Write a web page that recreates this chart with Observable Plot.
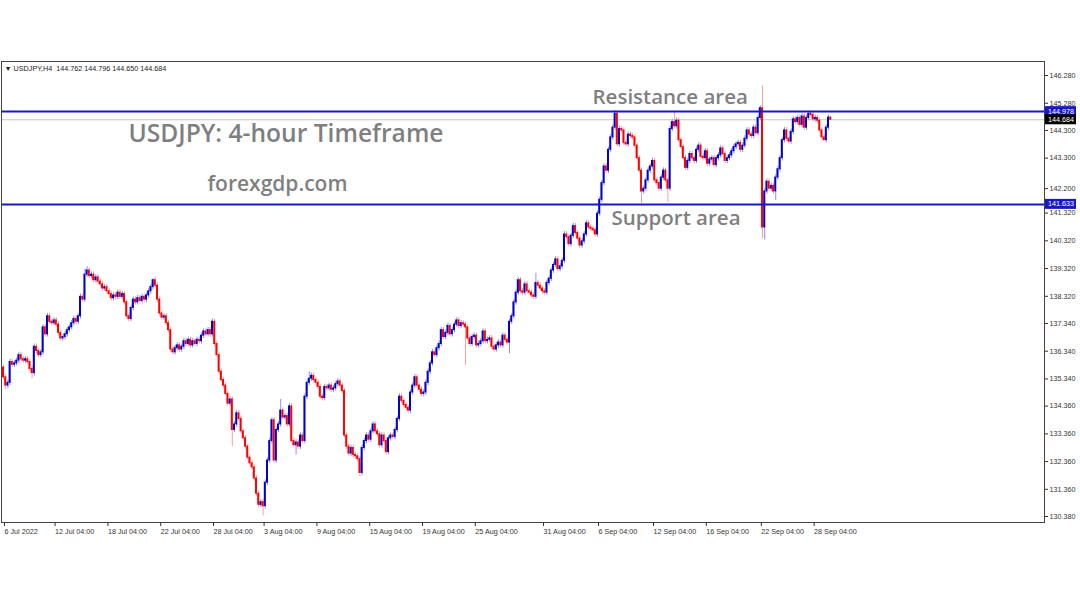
<!DOCTYPE html>
<html><head><meta charset="utf-8">
<script src="https://cdn.jsdelivr.net/npm/d3@7"></script>
<script src="https://cdn.jsdelivr.net/npm/@observablehq/plot@0.6"></script>
<style>body{margin:0;background:#fff;} svg{display:block}</style>
</head><body><div id="chart"></div>
<script>
// H4 closes, 6 Jul 2022 -> 29 Sep 2022
const closes = [
135.4,135.1,135.2,135.95,135.85,135.9,136.0,136.2,136.05,136.0,
136.05,135.95,135.7,135.55,136.5,136.35,136.2,136.3,137.2,136.95,
137.6,137.4,137.35,137.45,137.3,137.0,136.8,136.85,136.95,137.1,
137.2,137.35,137.5,137.4,137.6,138.3,138.2,139.1,139.25,139.05,
139.1,138.9,139.0,138.85,138.75,138.6,138.65,138.5,138.4,138.25,
138.35,138.3,138.45,138.3,138.4,138.1,137.6,137.5,137.9,138.2,
138.1,138.25,138.15,138.3,138.2,138.35,138.5,138.65,138.9,138.7,
138.2,137.7,137.55,137.6,137.35,137.1,136.4,136.3,136.45,136.55,
136.4,136.5,136.7,136.6,136.75,136.55,136.7,136.6,136.75,136.7,
136.9,137.05,136.95,137.1,136.95,137.4,136.6,136.2,135.6,135.3,
135.1,134.8,134.45,134.6,133.5,133.7,134.1,133.9,133.45,133.2,
132.9,132.5,132.3,132.15,131.75,131.2,130.8,130.9,130.75,131.6,
132.4,133.1,133.85,132.4,133.5,133.7,134.2,133.95,134.0,133.7,
134.35,133.1,132.95,133.05,132.9,133.3,133.1,134.7,135.2,135.35,
135.45,135.3,135.2,135.05,134.7,134.65,135.05,135.0,135.1,134.95,
135.0,135.15,135.25,135.1,134.9,133.3,132.9,132.65,132.85,132.6,
132.55,132.45,131.95,132.85,133.1,133.3,133.15,133.45,133.7,133.45,
133.35,132.95,133.3,133.1,132.7,133.2,133.3,133.25,133.5,133.9,
134.7,134.55,134.4,134.3,134.2,134.85,135.1,135.4,135.1,134.95,
134.8,134.85,135.2,135.6,135.9,136.3,136.2,136.45,136.6,137.1,
136.85,137.0,137.25,136.95,137.1,137.3,137.45,137.25,137.35,137.3,
137.2,136.8,136.6,136.85,136.9,136.55,136.6,136.7,137.05,136.7,
136.75,136.8,136.5,136.4,136.55,136.65,136.55,136.9,136.75,136.65,
137.4,137.6,138.1,138.45,138.9,138.5,138.45,138.75,138.5,138.45,
138.35,138.3,138.8,138.7,138.6,138.5,138.45,138.8,138.95,139.25,
139.45,139.65,139.3,139.4,139.6,140.55,140.45,140.2,140.5,140.85,
140.6,140.4,140.15,140.3,140.55,140.95,140.8,140.75,140.7,140.55,
141.3,141.8,142.4,143.0,142.85,143.6,144.05,144.4,144.9,143.8,
144.35,144.3,143.85,143.8,144.15,144.1,144.05,143.75,143.3,142.85,
142.1,142.2,142.5,142.85,143.0,143.2,142.5,142.4,142.2,142.6,
142.85,142.5,142.2,144.35,144.6,144.45,144.65,143.95,143.7,143.3,
142.95,143.2,143.45,143.3,143.2,143.6,143.75,143.35,143.3,143.55,
143.1,143.25,143.3,143.05,143.3,143.4,143.65,143.45,143.2,143.3,
143.4,143.55,143.7,143.8,143.85,143.6,143.75,144.0,144.3,144.15,
144.1,144.4,144.2,144.75,145.1,140.8,142.1,142.45,142.2,142.3,
142.1,142.6,142.9,143.3,143.95,144.3,144.0,143.9,144.25,144.7,
144.6,144.75,144.5,144.8,144.4,144.75,144.9,144.85,144.7,144.75,
144.65,144.3,144.05,143.95,144.4,144.762,144.684
];
const firstOpen = 135.75;
// notable wick extremes [bar, price]
const wickHighs = [[0,135.85],[37,139.3],[38,139.4],[68,138.95],[126,134.6],[139,135.6],[242,139.15],[278,145.02],[305,145.0],[345,145.9],[376,144.796]];
const wickLows = [[1,134.95],[13,135.35],[104,132.9],[118,130.4],[133,132.6],[162,131.8],[210,135.83],[230,136.25],[290,141.67],[302,141.7],[345,140.4],[346,140.35],[351,141.77],[373,143.9],[376,144.65]];
const wickPad = 0.1;

const resistance = 144.978;
const support = 141.633;
const lastPrice = 144.684;

const priceTicks = [146.28,145.28,144.30,143.30,142.20,141.32,140.32,139.32,138.32,137.34,136.34,135.34,134.36,133.36,132.36,131.36,130.38];
const dateTickBars = [0,23,47,71,95,118,142,166,190,214,245,270,295,319,344,368];
const dateTickLabels = ["6 Jul 2022","12 Jul 04:00","18 Jul 04:00","22 Jul 04:00","28 Jul 04:00","3 Aug 04:00","9 Aug 04:00","15 Aug 04:00","19 Aug 04:00","25 Aug 04:00","31 Aug 04:00","6 Sep 04:00","12 Sep 04:00","16 Sep 04:00","22 Sep 04:00","28 Sep 04:00"];

const headerText = "▼ USDJPY,H4  144.762 144.796 144.650 144.684";
const titleText = "USDJPY: 4-hour Timeframe";
const siteText = "forexgdp.com";
const resistanceText = "Resistance area";
const supportText = "Support area";

const hiMap = new Map(wickHighs), loMap = new Map(wickLows);
const candles = closes.map((c, i) => {
  const o = i === 0 ? firstOpen : closes[i - 1];
  const top = Math.max(o, c), bot = Math.min(o, c);
  return {i, o, c, h: hiMap.has(i) ? hiMap.get(i) : top + wickPad, l: loMap.has(i) ? loMap.get(i) : bot - wickPad, up: c >= o};
});
const dateLabel = new Map(dateTickBars.map((b, k) => [b, dateTickLabels[k]]));

const gray = "#7f7f7f";
const smallFont = "Liberation Sans, Arial, sans-serif";
const annot = {textAnchor: "start", lineAnchor: "middle", fontFamily: "Open Sans", fontWeight: 600, fill: gray};

const plot = Plot.plot({
  width: 1080, height: 600,
  marginTop: 61, marginBottom: 78, marginLeft: 1, marginRight: 36,
  style: {fontFamily: smallFont, fontSize: "7.2px", color: "#333", background: "#fff"},
  x: {type: "linear", domain: [-0.91, 473.18], axis: null},
  y: {domain: [130.164, 146.785], axis: null},
  marks: [
    Plot.ruleY([lastPrice], {stroke: "#c4c4cc", strokeWidth: 1}),
    Plot.ruleX(candles, {x: "i", y1: "l", y2: "h", stroke: d => d.up ? "#8f8ff0" : "#f7a0a0", strokeWidth: 1}),
    Plot.rect(candles, {x1: d => d.i - 0.45, x2: d => d.i + 0.45, y1: "o", y2: "c", fill: d => d.up ? "#0000d0" : "#ff0000", insetTop: -0.5, insetBottom: -0.5}),
    Plot.ruleY([resistance, support], {stroke: "#1818c8", strokeWidth: 2}),
    Plot.frame({stroke: "#444"}),
    Plot.axisY(priceTicks, {anchor: "right", tickSize: 3, tickPadding: 2, tickFormat: d => d.toFixed(3), label: null}),
    Plot.axisX(dateTickBars, {anchor: "bottom", tickSize: 4, tickPadding: 2, tickFormat: d => dateLabel.get(d), textAnchor: "start", dx: 1, label: null}),
    Plot.text([headerText], {frameAnchor: "top-left", dx: 3, dy: 7, textAnchor: "start", lineAnchor: "middle", fontSize: 7.2, fill: "#222"}),
    Plot.text([titleText], {...annot, frameAnchor: "top-left", dx: 127, dy: 73, fontSize: 24.6}),
    Plot.text([siteText], {...annot, frameAnchor: "top-left", dx: 206, dy: 123, fontSize: 21}),
    Plot.text([resistanceText], {...annot, frameAnchor: "top-left", dx: 591, dy: 36, fontSize: 20.5}),
    Plot.text([supportText], {...annot, frameAnchor: "top-left", dx: 610, dy: 157, fontSize: 20.5})
  ]
});
document.getElementById("chart").appendChild(plot);

// price tags on the right axis
const ys = plot.scale("y");
const tags = [{v: resistance, bg: "#1818c8"}, {v: lastPrice, bg: "#000"}, {v: support, bg: "#1818c8"}];
const g = d3.select(plot).append("g").attr("text-anchor", "start");
for (const t of tags) {
  const y = ys.apply(t.v);
  g.append("rect").attr("x", 1045).attr("y", y - 5).attr("width", 31).attr("height", 10).attr("fill", t.bg);
  g.append("text").attr("x", 1048).attr("y", y).attr("dy", "0.35em").attr("fill", "#fff")
    .attr("font-size", 7.2).attr("font-family", smallFont).text(t.v.toFixed(3));
}
</script>
</body></html>
